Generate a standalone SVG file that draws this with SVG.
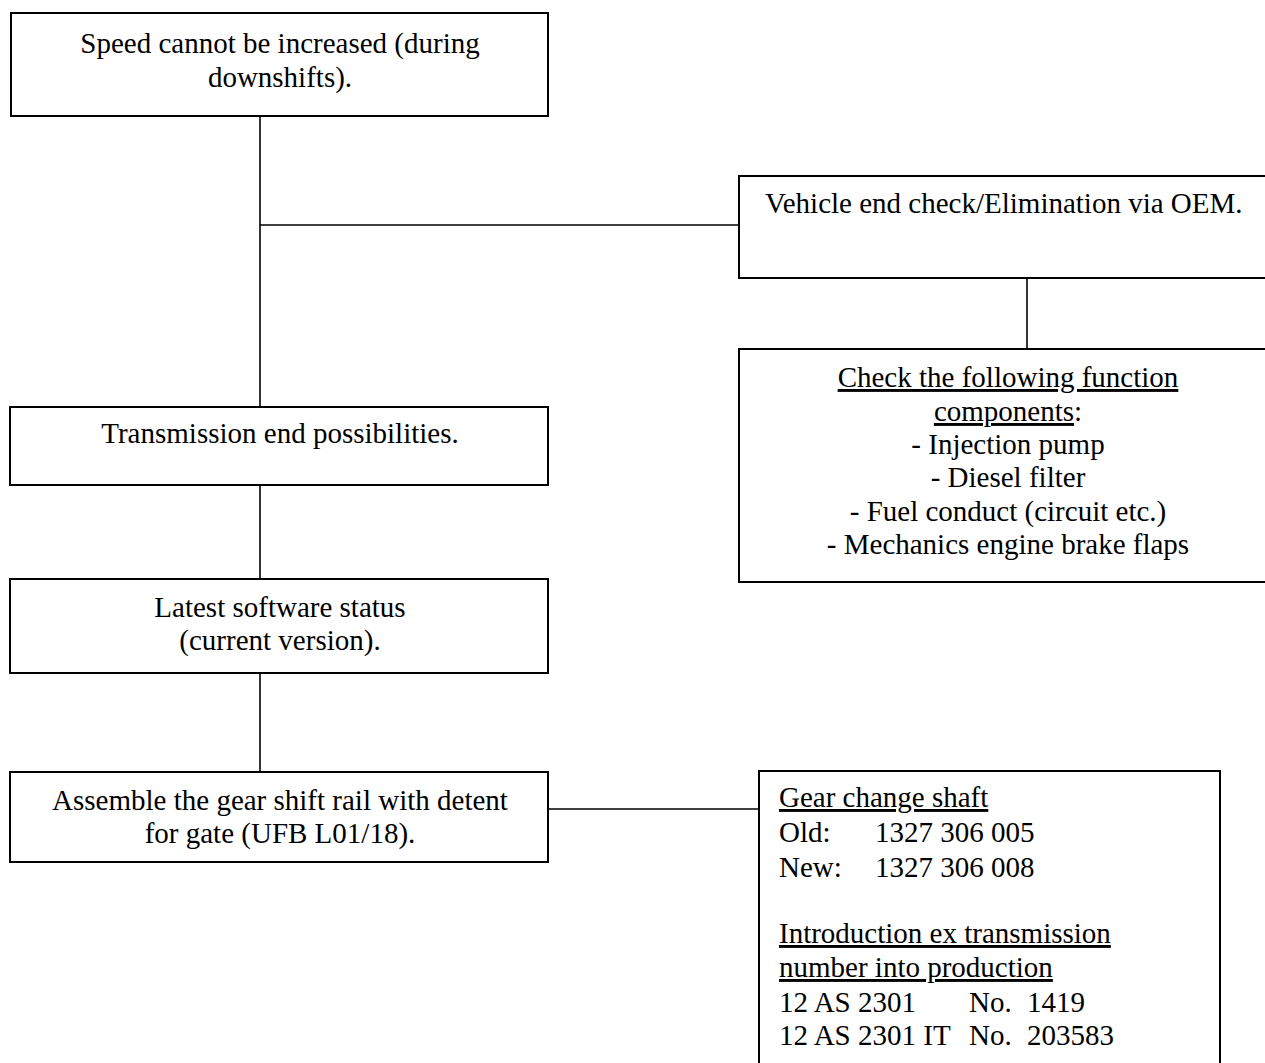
<svg xmlns="http://www.w3.org/2000/svg" width="1265" height="1063" viewBox="0 0 1265 1063">
<style>
.box{fill:#fff;stroke:#000;stroke-width:2}
.ln{stroke:#000;stroke-width:1.6;fill:none}
text{font-family:"Liberation Serif","Times New Roman",serif;font-size:29px;fill:#000}
.c{text-anchor:middle}
.u{text-decoration:underline}
</style>
<rect width="1265" height="1063" fill="#fff"/>
<g id="connectors">
<line class="ln" x1="260" y1="116" x2="260" y2="407"/>
<line class="ln" x1="260" y1="225" x2="739" y2="225"/>
<line class="ln" x1="1027" y1="278" x2="1027" y2="349"/>
<line class="ln" x1="260" y1="485" x2="260" y2="579"/>
<line class="ln" x1="260" y1="673" x2="260" y2="772"/>
<line class="ln" x1="548" y1="809" x2="759" y2="809"/>
</g>
<g id="n1">
<rect class="box" x="11" y="13" width="537" height="103"/>
<text class="c" x="280" y="53">Speed cannot be increased (during</text>
<text class="c" x="280" y="87">downshifts).</text>
</g>
<g id="n2">
<rect class="box" x="739" y="176" width="540" height="102"/>
<text x="765" y="213">Vehicle end check/Elimination via OEM.</text>
</g>
<g id="n3">
<rect class="box" x="739" y="349" width="540" height="233"/>
<text class="c" x="1008" y="387"><tspan class="u">Check the following function</tspan></text>
<text class="c" x="1008" y="421"><tspan class="u">components</tspan>:</text>
<text class="c" x="1008" y="454">- Injection pump</text>
<text class="c" x="1008" y="487">- Diesel filter</text>
<text class="c" x="1008" y="521">- Fuel conduct (circuit etc.)</text>
<text class="c" x="1008" y="554">- Mechanics engine brake flaps</text>
</g>
<g id="n4">
<rect class="box" x="10" y="407" width="538" height="78"/>
<text class="c" x="280" y="443">Transmission end possibilities.</text>
</g>
<g id="n5">
<rect class="box" x="10" y="579" width="538" height="94"/>
<text class="c" x="280" y="617">Latest software status</text>
<text class="c" x="280" y="650">(current version).</text>
</g>
<g id="n6">
<rect class="box" x="10" y="772" width="538" height="90"/>
<text class="c" x="280" y="810">Assemble the gear shift rail with detent</text>
<text class="c" x="280" y="843">for gate (UFB L01/18).</text>
</g>
<g id="n7">
<rect class="box" x="759" y="771" width="461" height="310"/>
<text x="779" y="807" class="u">Gear change shaft</text>
<text x="779" y="842">Old:</text>
<text x="875" y="842">1327 306 005</text>
<text x="779" y="877">New:</text>
<text x="875" y="877">1327 306 008</text>
<text x="779" y="943" class="u">Introduction ex transmission</text>
<text x="779" y="977" class="u">number into production</text>
<text x="779" y="1012">12 AS 2301</text>
<text x="969" y="1012">No.</text>
<text x="1027" y="1012">1419</text>
<text x="779" y="1045">12 AS 2301 IT</text>
<text x="969" y="1045">No.</text>
<text x="1027" y="1045">203583</text>
</g>
</svg>
